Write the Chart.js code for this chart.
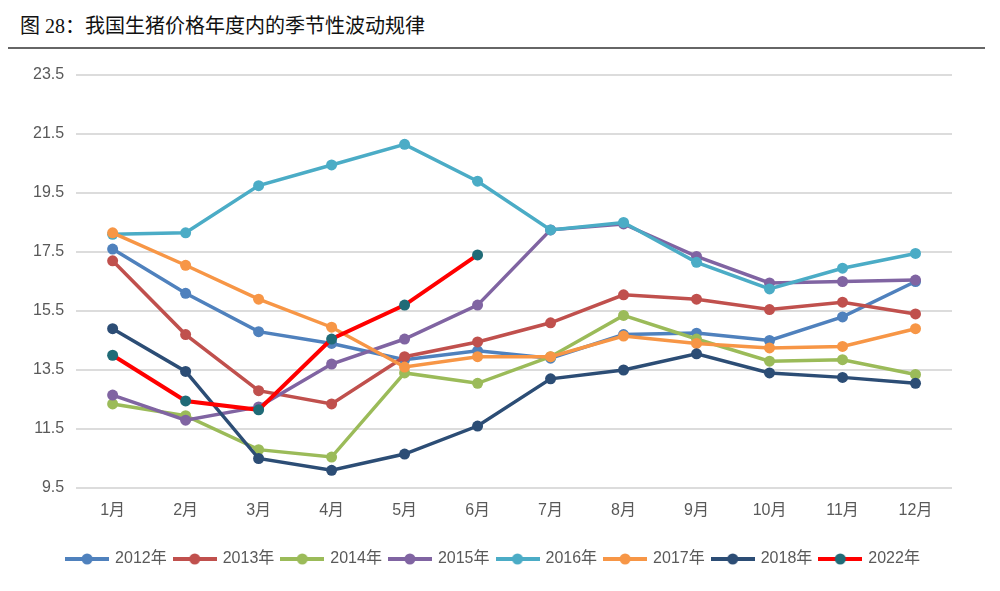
<!DOCTYPE html>
<html>
<head>
<meta charset="utf-8">
<script src="https://cdn.jsdelivr.net/npm/chart.js@4"></script>
<style>
    html, body { margin: 0; padding: 0; background: #fff; }
    #wrap { position: relative; width: 1000px; height: 591px; }
    #title { position: absolute; left: 20px; top: 10px; font-size: 20px; color: #111;
             font-family: "Liberation Serif", "Noto Sans CJK SC", serif; white-space: nowrap; }
    #rule { position: absolute; left: 8px; top: 47px; width: 977px; border-top: 2px solid #666; }
    #box { position: absolute; left: 0; top: 0; width: 1000px; height: 591px; }
</style>
</head>
<body>
<div id="wrap">
    <div id="title">图 28：我国生猪价格年度内的季节性波动规律</div>
    <div id="rule"></div>
    <div id="box"><canvas id="chart"></canvas></div>
</div>
<script>
// categories and tick labels
const months = ['1月', '2月', '3月', '4月', '5月', '6月', '7月', '8月', '9月', '10月', '11月', '12月'];
const yTickValues = [9.5, 11.5, 13.5, 15.5, 17.5, 19.5, 21.5, 23.5];

// series values
const y2012 = [17.6, 16.1, 14.8, 14.4, 13.85, 14.15, 13.9, 14.7, 14.75, 14.5, 15.3, 16.5];
const y2013 = [17.2, 14.7, 12.8, 12.35, 13.95, 14.45, 15.1, 16.05, 15.9, 15.55, 15.8, 15.4];
const y2014 = [12.35, 11.95, 10.8, 10.55, 13.4, 13.05, 13.95, 15.35, 14.55, 13.8, 13.85, 13.35];
const y2015 = [12.65, 11.8, 12.25, 13.7, 14.55, 15.7, 18.25, 18.45, 17.35, 16.45, 16.5, 16.55];
const y2016 = [18.1, 18.15, 19.75, 20.45, 21.15, 19.9, 18.25, 18.5, 17.15, 16.25, 16.95, 17.45];
const y2017 = [18.15, 17.05, 15.9, 14.95, 13.6, 13.95, 13.95, 14.65, 14.4, 14.25, 14.3, 14.9];
const y2018 = [14.9, 13.45, 10.5, 10.1, 10.65, 11.6, 13.2, 13.5, 14.05, 13.4, 13.25, 13.05];
const y2022 = [14.0, 12.45, 12.15, 14.55, 15.7, 17.4];

const FONT = "'Liberation Sans', 'Noto Sans CJK SC', sans-serif";
const GREY = '#595959';

// series: [label, data, line colour, marker colour]
const series = [
    ['2012年', y2012, '#4F81BD', '#4F81BD'],
    ['2013年', y2013, '#C0504D', '#C0504D'],
    ['2014年', y2014, '#9BBB59', '#9BBB59'],
    ['2015年', y2015, '#8064A2', '#8064A2'],
    ['2016年', y2016, '#4BACC6', '#4BACC6'],
    ['2017年', y2017, '#F79646', '#F79646'],
    ['2018年', y2018, '#2C4D75', '#2C4D75'],
    ['2022年', y2022, '#FF0000', '#206B77']
];

// little line-with-dot swatch for the legend
function swatch(line, dot) {
    const c = document.createElement('canvas');
    c.width = 44; c.height = 14;
    const g = c.getContext('2d');
    g.strokeStyle = line; g.lineWidth = 4;
    g.beginPath(); g.moveTo(0, 7); g.lineTo(44, 7); g.stroke();
    g.fillStyle = dot;
    g.beginPath(); g.arc(22, 7, 5.5, 0, Math.PI * 2); g.fill();
    return c;
}

// nudge the legend row a little to the right (it is centred on the page, not the plot)
const legendNudge = {
    id: 'legendNudge',
    afterLayout(chart) { chart.legend.left += 14; }
};

const datasets = series.map((s, i) => ({
    label: s[0],
    data: s[1],
    borderColor: s[2],
    backgroundColor: s[3],
    pointBackgroundColor: s[3],
    pointBorderColor: s[3],
    borderWidth: i === 7 ? 4 : 3.5,
    pointRadius: 5.5,
    pointBorderWidth: 0,
    tension: 0,
    order: series.length - i   // later series drawn on top, like the original
}));

new Chart(document.getElementById('chart'), {
    type: 'line',
    data: { labels: months, datasets: datasets },
    plugins: [legendNudge],
    options: {
        responsive: true,
        maintainAspectRatio: false,
        animation: false,
        layout: { padding: { top: 75, left: 21, right: 48, bottom: 14 } },
        plugins: {
            tooltip: { enabled: false },
            legend: {
                position: 'bottom',
                labels: {
                    usePointStyle: true,
                    pointStyleWidth: 40,
                    padding: 8,
                    color: GREY,
                    font: { family: FONT, size: 16 },
                    generateLabels: chart => chart.data.datasets.map((d, i) => ({
                        text: d.label,
                        pointStyle: swatch(series[i][2], series[i][3]),
                        fillStyle: series[i][2],
                        strokeStyle: series[i][2],
                        lineWidth: 0,
                        fontColor: GREY,
                        hidden: false,
                        datasetIndex: i
                    }))
                }
            }
        },
        scales: {
            x: {
                offset: true,
                grid: { display: false, drawTicks: false, offset: true },
                border: { display: false },
                ticks: { color: GREY, font: { family: FONT, size: 16 }, padding: 13 },
                afterFit: scale => { scale.height = 55; }
            },
            y: {
                min: 9.5,
                max: 23.5,
                afterBuildTicks: scale => { scale.ticks = yTickValues.map(v => ({ value: v })); },
                grid: { color: '#DCDCDC', lineWidth: 2, drawTicks: false },
                border: { display: false },
                ticks: {
                    color: GREY,
                    font: { family: FONT, size: 16 },
                    padding: 12,
                    callback: v => Number(v).toFixed(1)
                }
            }
        }
    }
});
</script>
</body>
</html>
